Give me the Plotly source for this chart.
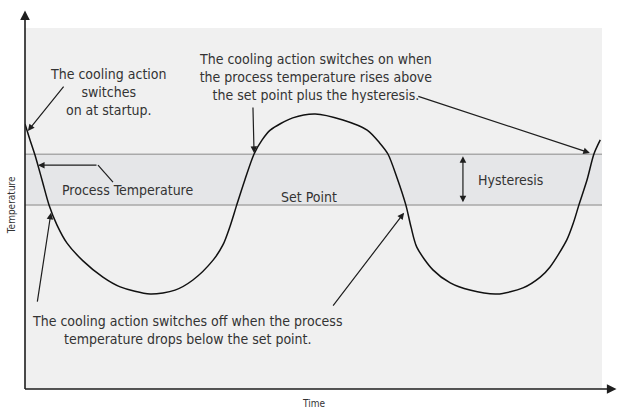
import plotly.graph_objects as go

# Process temperature over one run (time and temperature in percent of the axis span)
time = [0, 0.87, 1.73, 2.95, 4.16, 5.55, 7.28, 10.05, 13.5, 16.5, 21.7, 26.0, 29.1,
        32.6, 34.3, 35.5, 36.7, 38.1, 39.7, 41.1, 42.5, 46.4, 50.3, 55.1, 59.3, 61.5,
        62.9, 64.5, 66.0, 66.9, 67.9, 70.7, 73.7, 77.1, 81.8, 86.3, 89.3, 91.0, 93.9,
        95.1, 96.0, 97.4, 98.6, 99.7]
temperature = [73.4, 69.0, 64.8, 57.9, 51.0, 45.4, 40.4, 35.5, 31.0, 28.3, 26.3, 27.4,
               30.2, 35.7, 39.9, 44.9, 51.0, 57.9, 65.1, 69.0, 71.7, 75.1, 76.2, 74.5,
               71.7, 68.1, 65.1, 58.4, 51.0, 44.9, 39.3, 33.0, 29.4, 27.4, 26.3, 28.0,
               31.0, 33.8, 41.3, 46.3, 51.0, 57.9, 65.1, 69.0]

set_point = 51.0
hysteresis = 14.0

FONT = "DejaVu Sans Condensed, Roboto, Arial, sans-serif"
TXT = "#333333"
INK = "#1e1e1e"

fig = go.Figure()

# hysteresis band between the set point and set point + hysteresis
fig.add_shape(type="rect", xref="paper", yref="y", x0=0, x1=1,
              y0=set_point, y1=set_point + hysteresis,
              fillcolor="#e5e6e8", line_width=0, layer="below")
for lvl in (set_point, set_point + hysteresis):
    fig.add_shape(type="line", xref="paper", yref="y", x0=0, x1=1, y0=lvl, y1=lvl,
                  line=dict(color="#a9a9a9", width=1.5), layer="below")

fig.add_trace(go.Scatter(x=time, y=temperature, mode="lines",
                         line=dict(color="#111111", width=1.5, shape="spline", smoothing=0.8),
                         hoverinfo="skip", showlegend=False))

ann = []

def text(x, y, s, size=14):
    ann.append(dict(x=x, y=y, xref="x", yref="y", text=s, showarrow=False,
                    font=dict(family=FONT, size=size, color=TXT),
                    xanchor="center", yanchor="middle", align="center"))

def arrow(x, y, ax, ay, side="end"):
    ann.append(dict(x=x, y=y, ax=ax, ay=ay, xref="x", yref="y", axref="x", ayref="y",
                    text="", showarrow=True, arrowhead=2, arrowsize=1.1,
                    arrowwidth=1.2, arrowcolor=INK, arrowside=side,
                    startarrowhead=2, startarrowsize=1.1))

text(14.4, 82.3, "The cooling action<br>switches<br>on at startup.")
arrow(0.5, 71.5, 6.9, 84.2)

text(50.3, 86.4, "The cooling action switches on when<br>the process temperature rises above<br>the set point plus the hysteresis.")
arrow(39.7, 65.4, 39.5, 78.4)
arrow(97.9, 65.4, 67.9, 81.2)

text(17.7, 55.1, "Process Temperature")
fig.add_shape(type="line", xref="x", yref="y", x0=15.25, y0=57.3, x1=12.65, y1=62.0,
              line=dict(color=INK, width=1.2))
arrow(2.25, 62.0, 12.65, 62.0)

text(49.2, 53.2, "Set Point")

text(84.2, 57.9, "Hysteresis")
arrow(75.9, 64.5, 75.9, 51.3, side="end+start")

text(28.1, 16.3, "The cooling action switches off when the process<br>temperature drops below the set point.")
arrow(4.5, 48.8, 2.1, 23.8)
arrow(65.7, 48.8, 53.2, 22.7)

# axis titles
ann.append(dict(x=-0.022, y=0.51, xref="paper", yref="paper", text="Temperature",
                showarrow=False, textangle=-90, xanchor="center", yanchor="middle",
                font=dict(family=FONT, size=10, color=TXT)))
ann.append(dict(x=0.5, y=-0.04, xref="paper", yref="paper", text="Time",
                showarrow=False, xanchor="center", yanchor="middle",
                font=dict(family=FONT, size=10, color=TXT)))

# axis lines with arrow tips
ann.append(dict(x=0, y=0, xref="paper", yref="paper", ax=0, ay=-380, text="",
                showarrow=True, arrowhead=2, arrowsize=1.2, arrowwidth=1.6,
                arrowcolor=INK, arrowside="start", startarrowhead=2, startarrowsize=1.2))
ann.append(dict(x=0, y=0, xref="paper", yref="paper", ax=593, ay=0, text="",
                showarrow=True, arrowhead=2, arrowsize=1.2, arrowwidth=1.6,
                arrowcolor=INK, arrowside="start", startarrowhead=2, startarrowsize=1.2))

fig.update_layout(
    width=618, height=410,
    margin=dict(l=25, r=16, t=28, b=21),
    paper_bgcolor="white", plot_bgcolor="#f0f0f0",
    annotations=ann,
    xaxis=dict(range=[0, 100], visible=False, fixedrange=True),
    yaxis=dict(range=[0, 100], visible=False, fixedrange=True),
    showlegend=False,
)

fig.write_html("out.html", config={"displayModeBar": False})
